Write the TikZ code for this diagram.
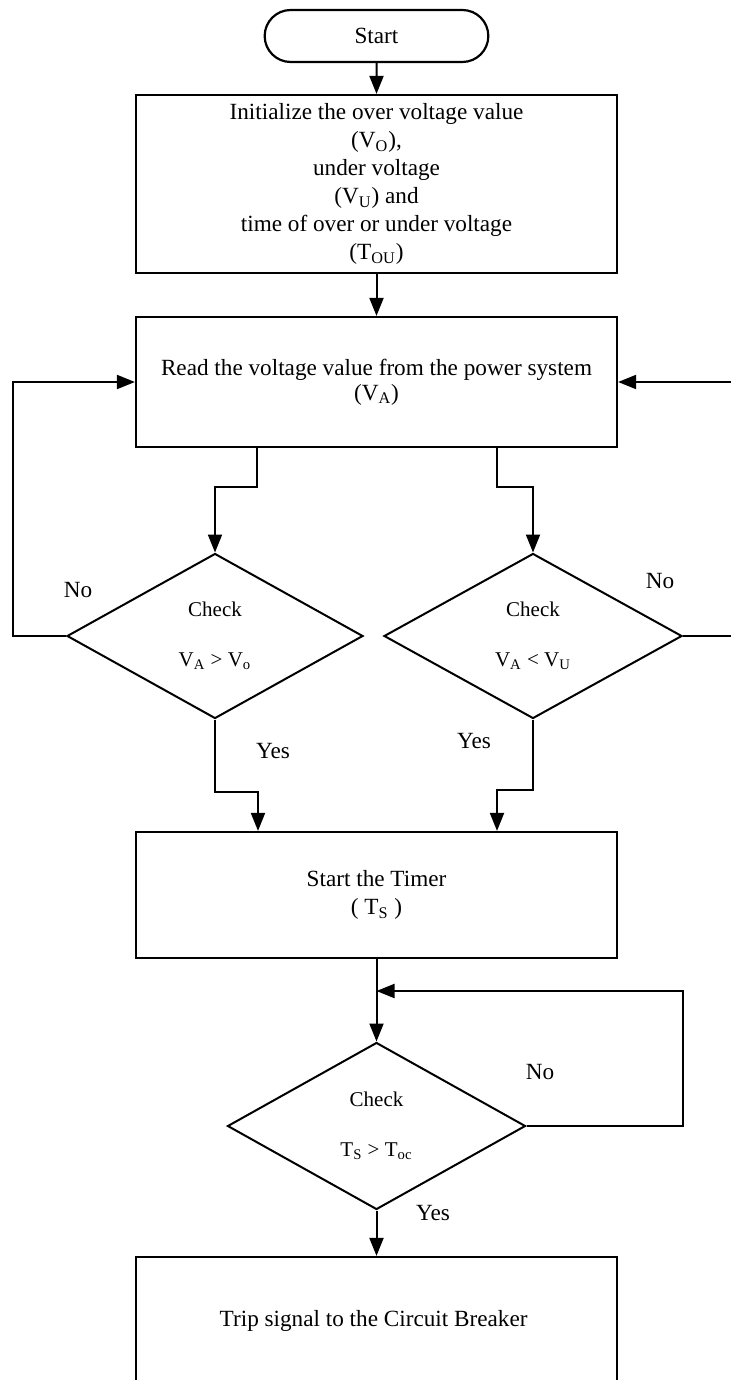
\documentclass[tikz,border=0pt]{standalone}
\usepackage{fontspec}
\setmainfont{Liberation Serif}
\usetikzlibrary{arrows.meta, positioning, shapes.geometric, shapes.misc}

\begin{document}
\begin{tikzpicture}[
      x=0.5pt,
      y=-0.5pt,
      font=\fontsize{11.6}{14}\selectfont,
      terminal/.style={
        rounded rectangle,
        draw,
        line width=1.1pt,
        minimum width=118.5pt,
        minimum height=26pt
      },
      procbox/.style={
        rectangle,
        draw,
        line width=1.1pt,
        align=center,
        minimum width=240.5pt
      },
      decision/.style={
        diamond,
        draw,
        line width=1pt,
        inner sep=0pt,
        aspect=1.8,
        align=center,
        font=\fontsize{10.5}{13}\selectfont
      },
      flow/.style={
        -{Triangle[length=9pt,width=7pt]},
        line width=1pt
      },
      answer/.style={
        font=\fontsize{11.6}{14}\selectfont
      }
  ]

    \useasboundingbox (0,0) rectangle (730,1380);

    % Blocks
    \node[terminal] (start) at (376.5,36) {Start};

    \node[procbox, minimum height=89pt] (init) at (376.5,184) {
      Initialize the over voltage value\\
      (V\textsubscript{O}),\\
      under voltage\\
      (V\textsubscript{U}) and\\
      time of over or under voltage\\
      (T\textsubscript{OU})
    };

    \node[procbox, minimum height=65pt] (read) at (376.5,382) {
      Read the voltage value from the power system\\[-1.5pt]
      (V\textsubscript{A})
    };

    \node[decision, minimum width=148pt, minimum height=82.5pt] (over) at (215,636) {
      Check\\[12pt]
      V\textsubscript{A} > V\textsubscript{o}
    };

    \node[decision, minimum width=149pt, minimum height=82.5pt] (under) at (533,636) {
      Check\\[12pt]
      V\textsubscript{A} < V\textsubscript{U}
    };

    \node[procbox, minimum height=63pt] (timer) at (376.5,895) {
      Start the Timer\\
      ( T\textsubscript{S} )
    };

    \node[decision, minimum width=149pt, minimum height=83.5pt] (elapsed) at (376.5,1126) {
      Check\\[12pt]
      T\textsubscript{S} > T\textsubscript{oc}
    };

    \node[procbox, minimum height=64pt] (trip) at (376.5,1321) {
      Trip signal to the Circuit Breaker
    };

    % Branch points
    \coordinate (splitL) at (257,487);
    \coordinate (splitR) at (497,487);
    \coordinate (loopL) at (13,0);
    \coordinate (loopR) at (740,0);
    \coordinate (joinL) at (258,792);
    \coordinate (joinR) at (497,790);
    \coordinate (loopT) at (683,991);

    % Main path
    \draw[flow] (start) -- (init);
    \draw[flow] (init) -- (read);
    \draw[flow] (read.south -| splitL) -- (splitL) -| (over.north);
    \draw[flow] (read.south -| splitR) -- (splitR) -| (under.north);

    % Feedback to reading
    \draw[flow] (over.west) -- (over.west -| loopL) |- (read.west);
    \draw[flow] (under.east) -- (under.east -| loopR) |- (read.east);

    % Towards the timer
    \draw[flow] (over.south) |- (joinL) -- (joinL |- timer.north);
    \draw[flow] (under.south) |- (joinR) -- (joinR |- timer.north);
    \draw[flow] (timer) -- (elapsed);
    \draw[flow] (elapsed.east) -| (loopT) -- (loopT -| elapsed.north);
    \draw[flow] (elapsed) -- (trip);

    % Answers
    \node[answer] (noOver) at (78,590) {No};
    \node[answer] (noUnder) at (660,581) {No};
    \node[answer] (yesOver) at (273,751) {Yes};
    \node[answer] (yesUnder) at (474,741) {Yes};
    \node[answer] (noTime) at (540,1072) {No};
    \node[answer] (yesTime) at (433,1213) {Yes};

  \end{tikzpicture}
\end{document}
